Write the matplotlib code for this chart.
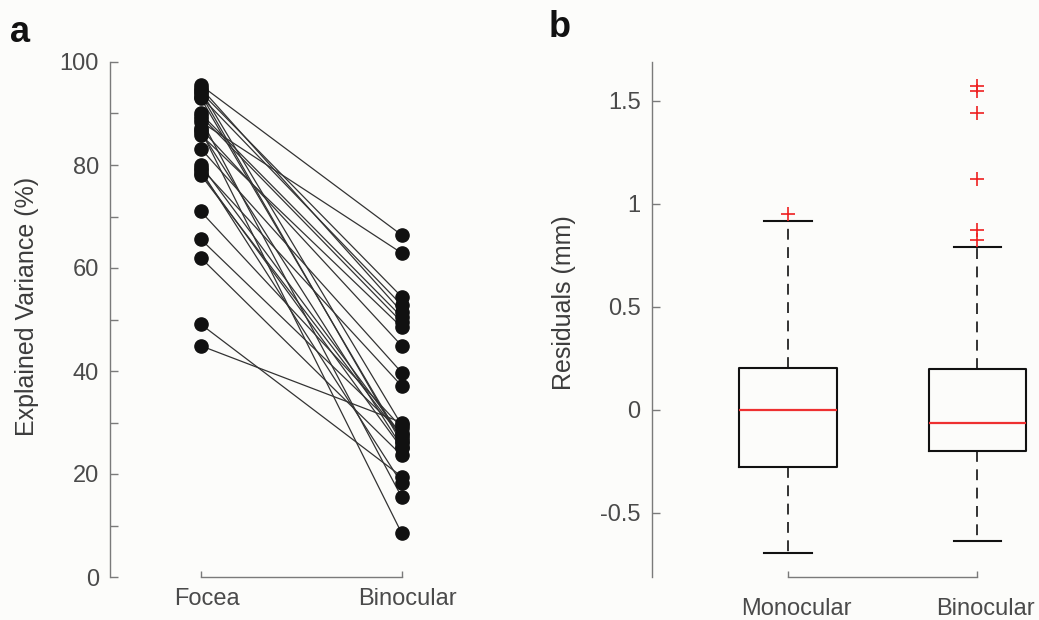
import matplotlib
matplotlib.use("Agg")
import matplotlib.pyplot as plt
import matplotlib.transforms as mtransforms
import numpy as np

# panel a : explained variance per subject, Focea vs Binocular
conditions = ["Focea", "Binocular"]
focea = [95.5, 88.4, 94.2, 93.3, 95.0, 90.0, 89.5, 85.9, 87.1, 83.2, 79.5, 44.9, 71.0,
         65.6, 78.1, 93.8, 86.5, 62.0, 49.1, 79.0, 89.0, 86.8, 94.5, 80.0, 93.0, 78.5]
binocular = [66.4, 62.9, 54.4, 52.8, 51.5, 50.5, 49.5, 48.5, 44.9, 39.7, 37.1, 30.0, 29.0,
             28.0, 27.0, 26.0, 25.3, 23.6, 19.5, 18.2, 15.5, 8.5, 29.5, 27.5, 26.5, 25.0]

# panel b : residual box plots
groups = ["Monocular", "Binocular"]
q1 = [-0.277, -0.199]
median = [0.0, -0.063]
q3 = [0.204, 0.199]
whisker_low = [-0.697, -0.636]
whisker_high = [0.915, 0.79]
outliers = [[0.953], [1.571, 1.547, 1.442, 1.120, 0.872, 0.824]]

plt.rcParams['axes.unicode_minus'] = False
plt.rcParams['font.family'] = ['Liberation Sans', 'DejaVu Sans']

bg = '#fcfcfa'
spine_col = '#7a7a7a'
text_col = '#3c3c3c'
tick_col = '#4a4a4a'

fig = plt.figure(figsize=(10.39, 6.2), dpi=100, facecolor=bg)

W, H = 1039, 620
# axes placed in pixel terms
axa = fig.add_axes([110 / W, 1 - 577 / H, 380 / W, (577 - 62) / H], facecolor=bg)
axb = fig.add_axes([651.7 / W, 1 - 576.7 / H, 383 / W, (576.7 - 61.7) / H], facecolor=bg)


def style_axes(ax, xpad):
    for s in ['top', 'right']:
        ax.spines[s].set_visible(False)
    for s in ['left', 'bottom']:
        ax.spines[s].set_color(spine_col)
        ax.spines[s].set_linewidth(1.0)
    ax.tick_params(axis='y', which='both', direction='in', length=6, width=1.0,
                   color=spine_col, labelcolor=tick_col, labelsize=17, pad=8)
    ax.tick_params(axis='x', direction='in', length=4, width=1.0,
                   color=spine_col, labelcolor=tick_col, labelsize=17, pad=xpad)
    ax.spines['bottom'].set_bounds(1, 2)


def shift_xlabels(ax, dx_px):
    # category labels sit a little to the right of their ticks in the original
    offset = mtransforms.ScaledTranslation(dx_px / 100, 0, fig.dpi_scale_trans)
    for lab in ax.get_xticklabels():
        lab.set_transform(lab.get_transform() + offset)


# ---- panel a
x = np.array([1, 2])
for f, b in zip(focea, binocular):
    axa.plot(x, [f, b], color='#333333', lw=0.9, zorder=1)
axa.plot(np.ones(len(focea)), focea, 'o', color='#111111', ms=9.5, zorder=2)
axa.plot(2 * np.ones(len(binocular)), binocular, 'o', color='#111111', ms=9.5, zorder=2)

axa.set_xlim(1 - 90.7 / 201, 2 + 88.3 / 201)
axa.set_ylim(0, 100)
style_axes(axa, 8)
axa.set_yticks(np.arange(0, 101, 20))
axa.set_yticks(np.arange(10, 100, 20), minor=True)
axa.set_xticks(x)
axa.set_xticklabels(conditions)
shift_xlabels(axa, 6)
axa.set_ylabel("Explained Variance (%)", fontsize=18, color=text_col)
axa.yaxis.set_label_coords(-0.187, 0.526)

# ---- panel b
stats = []
for i, g in enumerate(groups):
    stats.append(dict(label=g, q1=q1[i], med=median[i], q3=q3[i],
                      whislo=whisker_low[i], whishi=whisker_high[i], fliers=outliers[i]))
axb.bxp(stats, positions=[1, 2], widths=0.515, showfliers=True,
        boxprops=dict(color='#111111', lw=1.5),
        medianprops=dict(color='#ee3030', lw=1.6),
        whiskerprops=dict(color='#111111', lw=1.2, linestyle=(0, (6.5, 4.5))),
        capprops=dict(color='#111111', lw=1.5),
        capwidths=0.25,
        flierprops=dict(marker='+', markeredgecolor='#ee2020', markersize=10, markeredgewidth=1.2))

axb.set_xlim(1 - 136.3 / 189.7, 2 + 57.3 / 189.7)
axb.set_ylim(-0.81, 1.69)
style_axes(axb, 15)
axb.set_yticks([-0.5, 0, 0.5, 1, 1.5])
axb.set_yticklabels(["-0.5", "0", "0.5", "1", "1.5"])
axb.set_xticks([1, 2])
axb.set_xticklabels(groups)
shift_xlabels(axb, 8)
axb.set_ylabel("Residuals (mm)", fontsize=18, color=text_col)
axb.yaxis.set_label_coords(-0.197, 0.533)

# panel letters
fig.text(10 / W, 1 - 42 / H, "a", fontsize=26, fontweight='bold', color='#111111')
fig.text(549 / W, 1 - 37 / H, "b", fontsize=26, fontweight='bold', color='#111111')

fig.savefig("out.png", dpi=100, facecolor=bg)
